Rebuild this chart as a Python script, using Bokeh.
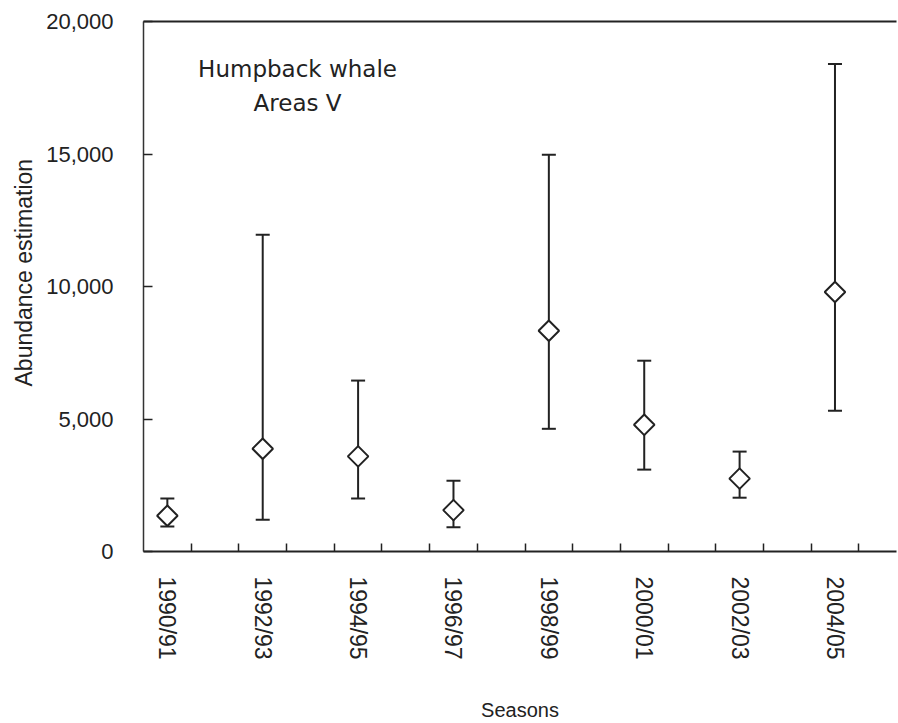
import math
from bokeh.plotting import figure
from bokeh.models import (Range1d, LinearAxis, FixedTicker, Whisker, TeeHead,
                          ColumnDataSource, Title, Label, NumeralTickFormatter)
from bokeh.embed import file_html
from bokeh.resources import INLINE

# ---- data ----
season_start = [1990, 1992, 1994, 1996, 1998, 2000, 2002, 2004]
season_labels = ["1990/91", "1992/93", "1994/95", "1996/97",
                 "1998/99", "2000/01", "2002/03", "2004/05"]
estimate = [1350, 3880, 3590, 1560, 8330, 4780, 2750, 9790]
lower_ci = [940, 1200, 2000, 915, 4630, 3090, 2030, 5310]
upper_ci = [2000, 11950, 6450, 2670, 14970, 7200, 3770, 18400]
all_seasons = list(range(1990, 2005))          # every season (one tick between each)
y_ticks = [0, 5000, 10000, 15000, 20000]

INK = "#222222"
FONT = "Liberation Sans"

src = ColumnDataSource(dict(x=season_start, y=estimate,
                            lower=lower_ci, upper=upper_ci))

p = figure(width=898, height=723, output_backend="svg", toolbar_location=None,
           x_range=Range1d(1989.5, 2005.29), y_range=Range1d(0, 20000),
           min_border_left=143, min_border_right=2,
           min_border_top=21, min_border_bottom=171)
p.xgrid.visible = False
p.ygrid.visible = False
p.outline_line_color = None
p.background_fill_color = "white"
p.border_fill_color = "white"

# x axis
xa = p.xaxis[0]
xa.ticker = FixedTicker(ticks=season_start, minor_ticks=[s + 0.5 for s in all_seasons])
xa.major_label_overrides = {s: l for s, l in zip(season_start, season_labels)}
xa.major_label_orientation = -math.pi / 2
xa.major_tick_in = 0
xa.major_tick_out = 0
xa.minor_tick_in = 8
xa.minor_tick_out = 0
xa.minor_tick_line_width = 1.5
xa.minor_tick_line_color = INK
xa.axis_line_width = 2
xa.axis_line_color = INK
xa.major_label_standoff = 25
xa.major_label_text_font = FONT
xa.major_label_text_font_size = "23px"
xa.major_label_text_color = INK
xa.axis_label = "Seasons"
xa.axis_label_standoff = 36
xa.axis_label_text_font = FONT
xa.axis_label_text_font_size = "20px"
xa.axis_label_text_font_style = "normal"
xa.axis_label_text_color = INK
xa.axis_label_text_align = "left"

# y axis
ya = p.yaxis[0]
ya.ticker = FixedTicker(ticks=y_ticks)
ya.formatter = NumeralTickFormatter(format="0,0")
ya.major_tick_in = 9
ya.major_tick_out = 0
ya.major_tick_line_width = 1.5
ya.major_tick_line_color = INK
ya.minor_tick_line_color = None
ya.axis_line_width = 1.5
ya.axis_line_color = "#333333"
ya.major_label_standoff = 30
ya.major_label_text_font = FONT
ya.major_label_text_font_size = "22px"
ya.major_label_text_color = INK

# top frame line
top = LinearAxis(ticker=FixedTicker(ticks=[]), axis_line_width=2, axis_line_color=INK,
                 major_tick_line_color=None, minor_tick_line_color=None,
                 major_label_text_font_size="0px")
p.add_layout(top, "above")

# y axis title
p.add_layout(Title(text="Abundance estimation", align="left", offset=165,
                   text_font=FONT, text_font_size="23px", text_font_style="normal",
                   text_color=INK, standoff=13), "left")

# error bars
wh = Whisker(source=src, base="x", upper="upper", lower="lower",
             line_width=2, line_color=INK,
             upper_head=TeeHead(size=14, line_width=2, line_color=INK),
             lower_head=TeeHead(size=14, line_width=2, line_color=INK))
p.add_layout(wh)

# diamonds
p.scatter("x", "y", source=src, marker="square", size=14.5, angle=math.pi / 4,
          fill_color="white", line_color=INK, line_width=2)

# annotation text
p.add_layout(Label(x=1992.73, y=18220, text="Humpback whale", text_align="center",
                   text_baseline="alphabetic", text_font="DejaVu Sans",
                   text_font_size="23px", text_color=INK))
p.add_layout(Label(x=1992.73, y=16940, text="Areas V", text_align="center",
                   text_baseline="alphabetic", text_font="DejaVu Sans",
                   text_font_size="23px", text_color=INK))

open("out.html", "w").write(file_html(p, INLINE))
